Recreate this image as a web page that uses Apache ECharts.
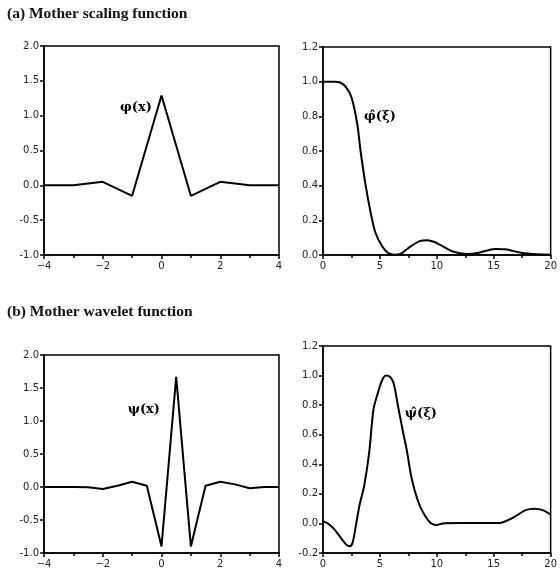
<!DOCTYPE html>
<html>
<head>
<meta charset="utf-8">
<script src="https://cdn.jsdelivr.net/npm/echarts@6/dist/echarts.min.js"></script>
<style>
  html, body { margin: 0; padding: 0; background: #fff; }
  #chart { width: 560px; height: 580px; }
</style>
</head>
<body>
<div id="chart"></div>
<script>
// Mother scaling function phi(x), piecewise linear on integer nodes
const phiX = [-4, -3, -2, -1, 0, 1, 2, 3, 4];
const phiY = [0, 0, 0.05, -0.15, 1.29, -0.15, 0.05, 0, 0];

// Its Fourier magnitude |phi-hat(xi)|
const phiHatXi = [0, 0.5, 1, 1.5, 2, 2.5, 3, 3.3, 3.75, 4.2, 4.6, 5.2, 5.7, 6.3, 6.9, 7.7, 8.5, 9.15, 9.8, 10.3, 11.4, 12.6, 13.7, 15.1, 16, 17.4, 18.8, 20];
const phiHatY  = [1, 1, 1, 0.995, 0.97, 0.91, 0.76, 0.6, 0.4, 0.24, 0.13, 0.05, 0.013, 0.002, 0.01, 0.05, 0.08, 0.085, 0.075, 0.058, 0.02, 0.006, 0.013, 0.035, 0.033, 0.013, 0.004, 0.002];

// Mother wavelet psi(x)
const psiX = [-4, -3, -2.5, -2, -1.5, -1, -0.5, -0.25, 0, 0.25, 0.5, 0.75, 1, 1.25, 1.5, 2, 2.5, 3, 3.5, 4];
const psiY = [0, 0, -0.005, -0.03, 0.02, 0.08, 0.02, -0.44, -0.9, 0.38, 1.67, 0.38, -0.9, -0.44, 0.02, 0.08, 0.04, -0.02, 0, 0];

// Its Fourier magnitude psi-hat(xi)
const psiHatXi = [0, 0.5, 1, 1.5, 2, 2.35, 2.6, 2.9, 3.2, 3.63, 4.06, 4.43, 4.77, 5.2, 5.55, 5.9, 6.2, 6.6, 7.05, 7.35, 7.8, 8.35, 8.9, 9.5, 10.05, 10.5, 12, 14, 15.5, 16.6, 17.8, 18.6, 19.3, 20];
const psiHatY  = [0.015, -0.005, -0.04, -0.09, -0.14, -0.155, -0.13, -0.01, 0.12, 0.26, 0.48, 0.77, 0.87, 0.97, 1.0, 0.99, 0.95, 0.79, 0.61, 0.5, 0.3, 0.15, 0.06, 0.0, -0.01, 0.0, 0.003, 0.003, 0.003, 0.035, 0.09, 0.1, 0.09, 0.06];

// Curve names and where they are written inside each panel (data units)
const curveNames = ['\u03C6(x)', '\u03C6\u0302(\u03BE)', '\u03C8(x)', '\u03C8\u0302(\u03BE)'];
const namePos = [[-0.87, 1.12], [5.0, 0.8], [-0.6, 1.17], [8.6, 0.74]];

const panelTitles = ['(a) Mother scaling function', '(b) Mother wavelet function'];

const zip = (xs, ys) => xs.map((x, i) => [x, ys[i]]);

const chart = echarts.init(document.getElementById('chart'), null, { renderer: 'canvas' });

const tickFont = { color: '#222', fontSize: 10, fontFamily: 'DejaVu Sans' };
const black = '#000';

function xAxis(gridIndex, min, max, interval) {
  return {
    type: 'value', gridIndex, min, max, interval,
    axisLine: { onZero: false, lineStyle: { color: black, width: 1.5 } },
    axisTick: { length: 4, lineStyle: { color: black, width: 1.5 } },
    minorTick: { show: true, splitNumber: 2, length: 3, lineStyle: { color: black, width: 1.5 } },
    splitLine: { show: false },
    axisLabel: Object.assign({ margin: 6, formatter: v => String(v).replace('-', '\u2212') }, tickFont)
  };
}
function yAxis(gridIndex, min, max, interval) {
  return {
    type: 'value', gridIndex, min, max, interval,
    axisLine: { onZero: false, lineStyle: { color: black, width: 1.5 } },
    axisTick: { length: 4, lineStyle: { color: black, width: 1.5 } },
    splitLine: { show: false },
    axisLabel: Object.assign({ margin: 5, formatter: v => v.toFixed(1) }, tickFont)
  };
}

function curve(idx, data, smooth) {
  return {
    type: 'line', xAxisIndex: idx, yAxisIndex: idx, data,
    showSymbol: false, smooth, smoothMonotone: null,
    lineStyle: { color: black, width: 2 },
    markPoint: {
      symbol: 'circle', symbolSize: 1,
      itemStyle: { color: 'rgba(0,0,0,0)' },
      label: {
        show: true, position: 'inside', formatter: curveNames[idx],
        color: black, fontSize: 13, fontWeight: 'bold', fontFamily: 'DejaVu Serif'
      },
      data: [{ coord: namePos[idx] }]
    },
    animation: false
  };
}

const gridStyle = { show: true, borderColor: black, borderWidth: 1.5, containLabel: false };

chart.setOption({
  backgroundColor: '#fff',
  animation: false,
  title: panelTitles.map((t, i) => ({
    text: t, left: 2, top: i === 0 ? 1 : 299,
    textStyle: { fontFamily: 'Liberation Serif', fontSize: 15.5, fontWeight: 'bold', color: '#111' }
  })),
  grid: [
    Object.assign({ left: 44, top: 46, width: 235, height: 209 }, gridStyle),
    Object.assign({ left: 323, top: 47, width: 234, height: 208 }, gridStyle),
    Object.assign({ left: 44, top: 355, width: 235, height: 198 }, gridStyle),
    Object.assign({ left: 323, top: 346, width: 234, height: 207 }, gridStyle)
  ],
  xAxis: [
    xAxis(0, -4, 4, 2),
    xAxis(1, 0, 20, 5),
    xAxis(2, -4, 4, 2),
    xAxis(3, 0, 20, 5)
  ],
  yAxis: [
    yAxis(0, -1, 2, 0.5),
    yAxis(1, 0, 1.2, 0.2),
    yAxis(2, -1, 2, 0.5),
    yAxis(3, -0.2, 1.2, 0.2)
  ],
  series: [
    curve(0, zip(phiX, phiY), false),
    curve(1, zip(phiHatXi, phiHatY), 0.3),
    curve(2, zip(psiX, psiY), false),
    curve(3, zip(psiHatXi, psiHatY), 0.3)
  ]
});
</script>
</body>
</html>
